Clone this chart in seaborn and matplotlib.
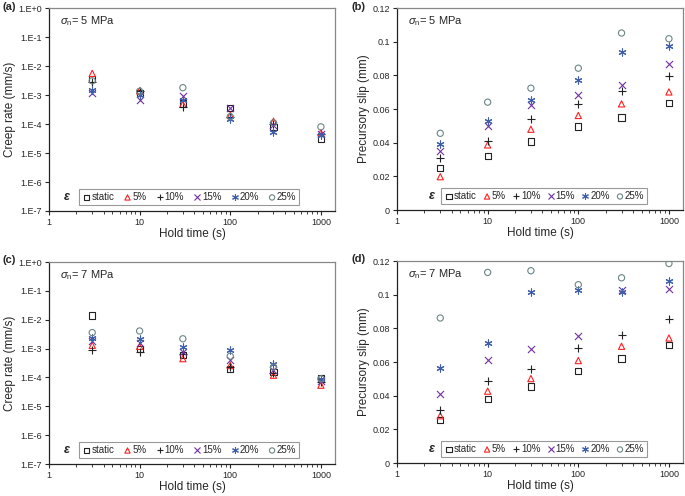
import numpy as np
import pandas as pd
import seaborn as sns
import matplotlib.pyplot as plt
from matplotlib.ticker import FixedLocator, FuncFormatter, LogLocator, NullLocator, NullFormatter

# hold times (s)
hold = [3, 10, 30, 100, 300, 1000]
series = ['static', '5%', '10%', '15%', '20%', '25%']

# (a) creep rate, sigma_n = 5 MPa (mm/s)
rate5 = {
    'static': [3.6e-3, 1.15e-3, 5.1e-4, 3.6e-4, 8.0e-5, 3.0e-5],
    '5%':     [5.6e-3, 1.4e-3, 4.8e-4, 2.0e-4, 1.25e-4, 5.0e-5],
    '10%':    [2.8e-3, 1.4e-3, 4.0e-4, 1.7e-4, 1.0e-4, 4.5e-5],
    '15%':    [1.2e-3, 7.0e-4, 9.3e-4, 3.6e-4, 9.0e-5, 4.5e-5],
    '20%':    [1.5e-3, 1.0e-3, 6.7e-4, 1.5e-4, 5.2e-5, 4.2e-5],
    '25%':    [3.1e-3, 1.35e-3, 1.8e-3, 1.8e-4, 1.1e-4, 8.0e-5],
}
# (b) precursory slip, 5 MPa (mm)
slip5 = {
    'static': [0.0252, 0.0323, 0.0407, 0.0496, 0.0550, 0.0635],
    '5%':     [0.0198, 0.0387, 0.0480, 0.0562, 0.0631, 0.0702],
    '10%':    [0.0312, 0.0413, 0.0540, 0.0629, 0.0710, 0.0794],
    '15%':    [0.0351, 0.0500, 0.0623, 0.0685, 0.0744, 0.0869],
    '20%':    [0.0393, 0.0532, 0.0651, 0.0774, 0.0942, 0.0972],
    '25%':    [0.0456, 0.0641, 0.0724, 0.0843, 0.1052, 0.1018],
}
# (c) creep rate, 7 MPa
rate7 = {
    'static': [1.4e-2, 9.5e-4, 5.9e-4, 1.95e-4, 1.55e-4, 9.2e-5],
    '5%':     [1.3e-3, 1.2e-3, 4.5e-4, 2.6e-4, 1.2e-4, 5.4e-5],
    '10%':    [9.3e-4, 7.7e-4, 6.3e-4, 2.3e-4, 1.4e-4, 7.0e-5],
    '15%':    [1.9e-3, 1.6e-3, 7.7e-4, 4.0e-4, 1.8e-4, 7.5e-5],
    '20%':    [2.4e-3, 2.1e-3, 1.15e-3, 8.7e-4, 2.9e-4, 8.8e-5],
    '25%':    [3.6e-3, 4.1e-3, 2.2e-3, 5.5e-4, 2.3e-4, 9.0e-5],
}
# (d) precursory slip, 7 MPa
slip7 = {
    'static': [0.0257, 0.0380, 0.0455, 0.0546, 0.0621, 0.0700],
    '5%':     [0.0281, 0.0427, 0.0502, 0.0609, 0.0694, 0.0743],
    '10%':    [0.0316, 0.0490, 0.0561, 0.0682, 0.0761, 0.0854],
    '15%':    [0.0413, 0.0615, 0.0678, 0.0755, 0.1028, 0.1032],
    '20%':    [0.0563, 0.0714, 0.1018, 0.1030, 0.1018, 0.1083],
    '25%':    [0.0862, 0.1133, 0.1143, 0.1060, 0.1101, 0.1186],
}

colors = {'static': '#222222', '5%': '#ff2020', '10%': '#222222',
          '15%': '#7030a0', '20%': '#3f5faa', '25%': '#6b8585'}
markers = {'static': 's', '5%': '^', '10%': '+', '15%': 'x', '20%': (6, 2, 0), '25%': 'o'}
open_markers = {'static', '5%', '25%'}

sns.set_style('ticks')
plt.rcParams['font.family'] = ['Liberation Sans', 'DejaVu Sans']
plt.rcParams['mathtext.fontset'] = 'custom'
plt.rcParams['mathtext.it'] = 'Liberation Sans:italic'
plt.rcParams['mathtext.rm'] = 'Liberation Sans'

fig = plt.figure(figsize=(6.85, 4.96), dpi=100)
W = 0.4175
axes = {
    'a': fig.add_axes([0.0715, 0.5746, W, 0.409]),
    'b': fig.add_axes([0.5796, 0.5766, W, 0.407]),
    'c': fig.add_axes([0.0715, 0.0645, W, 0.407]),
    'd': fig.add_axes([0.5796, 0.0665, W, 0.407]),
}
panels = [('a', rate5, True, '5'), ('b', slip5, False, '5'),
          ('c', rate7, True, '7'), ('d', slip7, False, '7')]

for key, data, is_log, stress in panels:
    ax = axes[key]
    df = pd.DataFrame({'hold': np.tile(hold, len(series)),
                       'value': np.concatenate([data[s] for s in series]),
                       'series': np.repeat(series, len(hold))})
    for s in series:
        sub = df[df['series'] == s]
        if s in open_markers:
            sns.scatterplot(data=sub, x='hold', y='value', ax=ax, marker=markers[s],
                            facecolor='none', edgecolor=colors[s], linewidth=0.8,
                            s=20, label=s, zorder=3)
        else:
            sns.scatterplot(data=sub, x='hold', y='value', ax=ax, marker=markers[s],
                            color=colors[s], edgecolor=colors[s], linewidth=0.8,
                            s=26, label=s, zorder=3)
    ax.set_xscale('log')
    ax.set_xlim(1, 1430)
    ax.xaxis.set_major_locator(FixedLocator([1, 10, 100, 1000]))
    ax.xaxis.set_major_formatter(FuncFormatter(lambda v, p: '%g' % v))
    ax.xaxis.set_minor_locator(LogLocator(base=10, subs=np.arange(2, 10)))
    ax.xaxis.set_minor_formatter(NullFormatter())
    ax.set_xlabel('Hold time (s)', fontsize=8.5, labelpad=1)
    if is_log:
        ax.set_yscale('log')
        ax.set_ylim(1e-7, 1)
        ax.yaxis.set_major_locator(FixedLocator([10.0 ** e for e in range(-7, 1)]))
        ax.yaxis.set_major_formatter(FuncFormatter(
            lambda v, p: '1.E%+d' % int(round(np.log10(v)))))
        ax.yaxis.set_minor_locator(NullLocator())
        ax.set_ylabel('Creep rate (mm/s)', fontsize=8.5, labelpad=2)
    else:
        ax.set_ylim(0, 0.12)
        ax.yaxis.set_major_locator(FixedLocator(np.arange(0, 0.121, 0.02)))
        ax.yaxis.set_major_formatter(FuncFormatter(lambda v, p: '%g' % round(v, 2)))
        ax.set_ylabel('Precursory slip (mm)', fontsize=8.5, labelpad=2)
    ax.tick_params(axis='both', which='major', labelsize=6.5, length=3, width=0.8, pad=2)
    ax.tick_params(axis='x', which='minor', length=1.8, width=0.6)
    for side in ['left', 'bottom']:
        ax.spines[side].set_color('#222222')
        ax.spines[side].set_linewidth(0.9)
    for side in ['top', 'right']:
        ax.spines[side].set_visible(True)
        ax.spines[side].set_color('#888888')
        ax.spines[side].set_linewidth(0.9)

    ax.text(0.04, 0.935, r'$\sigma_{\rm n}$= %s MPa' % stress, transform=ax.transAxes,
            fontsize=8, va='center')
    cx = 0.49 if is_log else 0.515
    colsp = 0.85 if is_log else 0.55
    leg = ax.legend(ncol=6, loc='lower center', bbox_to_anchor=(cx, 0.03), fontsize=7,
                    frameon=True, fancybox=False, edgecolor='#999999', framealpha=1,
                    handletextpad=0.0, columnspacing=colsp, handlelength=1.0,
                    markerscale=0.85, borderpad=0.3, borderaxespad=0)
    leg.get_frame().set_linewidth(0.8)
    ex = 0.063 if is_log else 0.12
    ax.text(ex, 0.07, 'ε', transform=ax.transAxes, fontsize=9, zorder=10,
            fontweight='bold', fontstyle='italic', va='center', ha='center')

fig.text(0.003, 0.985, '(a)', fontsize=8, fontweight='bold', va='center')
fig.text(0.5125, 0.985, '(b)', fontsize=8, fontweight='bold', va='center')
fig.text(0.003, 0.476, '(c)', fontsize=8, fontweight='bold', va='center')
fig.text(0.5125, 0.478, '(d)', fontsize=8, fontweight='bold', va='center')

fig.savefig('out.png', dpi=100)
